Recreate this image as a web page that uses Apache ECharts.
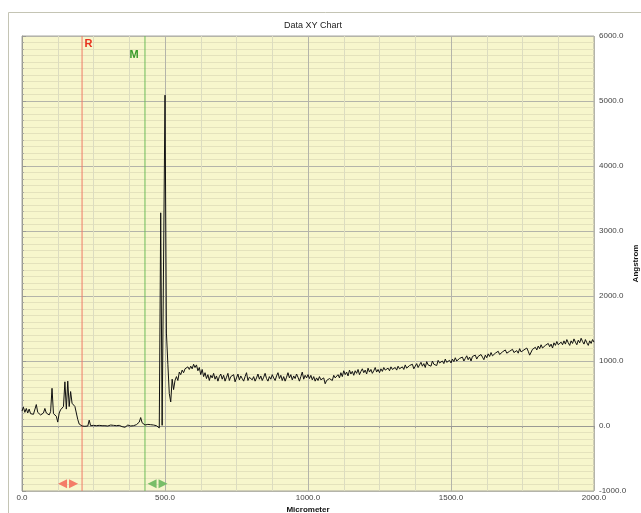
<!DOCTYPE html>
<html>
<head>
<meta charset="utf-8">
<title>Data XY Chart</title>
<script src="https://cdn.jsdelivr.net/npm/echarts@6/dist/echarts.min.js"></script>
<style>
  html, body { margin: 0; padding: 0; background: #fff; }
  #main { width: 641px; height: 513px; }
</style>
</head>
<body>
<div id="main"></div>
<script>
// 采样间隔 (Micrometer)
const stepUm = 5;

// 0 ~ 495 um: 前段噪声 + 平底
const headValues = [
    230, 290, 210, 270, 200, 260, 190, 220, 180, 200, 330, 210, 190, 170, 190, 200, 270, 200, 180, 170,
    220, 580, 190, 200, 150, 60, 200, 250, 230, 300, 680, 260, 690, 300, 530, 350, 340, 300, 200, 100,
    30, 10, 0, 10, -5, 5, 0, 90, 5, 0, 10, -5, 5, 0, 10, 0, 5, -5, 5, 10,
    0, 5, 15, 0, 10, -5, 5, 0, 10, 5, -10, 0, -20, 5, 15, 5, 0, 10, 5, 20,
    20, 30, 60, 130, 50, 20, 15, 10, 25, 15, 20, 10, 15, 0, 5, -10, -30, 3280, 10, -20
];

// 500 ~ 995 um: 主峰 + 平台
const peakValues = [
    5090, 1430, 950, 500, 370, 720, 560, 700, 760, 700, 830, 790, 860, 820, 880, 850, 910, 870, 920, 880,
    950, 900, 940, 850, 900, 790, 870, 760, 820, 730, 790, 700, 780, 740, 810, 720, 770, 690, 760, 800,
    720, 780, 690, 750, 810, 700, 760, 730, 790, 680, 740, 800, 710, 770, 730, 690, 760, 820, 700, 750,
    780, 710, 760, 690, 740, 800, 720, 770, 700, 750, 810, 730, 690, 760, 720, 790, 740, 700, 770, 820,
    730, 780, 700, 760, 690, 750, 820, 740, 790, 710, 770, 730, 800, 750, 690, 760, 830, 720, 780, 740
];

// 1000 ~ 2000 um: 缓慢上升段
const tailValues = [
    790, 730, 780, 710, 760, 690, 740, 700, 760, 710, 680, 740, 650, 700, 690, 730, 760, 700, 780, 740,
    710, 790, 740, 820, 760, 850, 790, 830, 770, 860, 800, 840, 780, 850, 810, 870, 790, 840, 880, 820,
    860, 800, 890, 830, 870, 810, 850, 900, 830, 870, 820, 880, 840, 900, 860, 830, 890, 850, 910, 870,
    840, 900, 860, 920, 880, 850, 910, 870, 940, 890, 860, 930, 900, 950, 880, 920, 960, 900, 940, 980,
    920, 960, 900, 990, 940, 970, 920, 1000, 950, 980, 930, 1010, 970, 940, 1000, 960, 1030, 980, 950, 1010,
    970, 1030, 990, 1050, 1000, 970, 1040, 1010, 1060, 1000, 1040, 1080, 1020, 1060, 1000, 1070, 1040, 1090, 1030, 1070,
    1040, 1100, 1060, 1020, 1090, 1050, 1110, 1070, 1130, 1080, 1050, 1120, 1090, 1150, 1100, 1070, 1140, 1110, 1170, 1120,
    1090, 1150, 1120, 1180, 1130, 1100, 1160, 1120, 1190, 1140, 1110, 1170, 1140, 1200, 1150, 1090, 1120, 1180, 1150, 1210,
    1170, 1230, 1190, 1250, 1200, 1170, 1240, 1210, 1270, 1220, 1260, 1200, 1280, 1240, 1300, 1250, 1220, 1290, 1250, 1310,
    1260, 1330, 1280, 1240, 1310, 1270, 1340, 1290, 1250, 1320, 1280, 1350, 1300, 1260, 1330, 1280, 1240, 1310, 1270, 1330,
    1290
];

// 坐标轴范围
const xRange = [0, 2000];
const yRange = [-1000, 6000];

// 游标 R / M 位置
const cursorNames = ['R', 'M'];
const cursorPositions = [210, 430];
const cursorLabelPoints = [[232, 5880], [392, 5710]];
const handlePoints = [[161, -890], [474, -890]];

const cursorLineColors = ['#f07a66', '#6cbc58'];
const cursorTextColors = ['#e8321e', '#389a28'];
const handleColors = ['#f47c68', '#78be68'];

const FONT = "'Liberation Sans', Arial, sans-serif";

function buildSeriesData() {
    let all = headValues.concat(peakValues, tailValues);
    return all.map((v, i) => [i * stepUm, v]);
}

function fmt(v) {
    return v.toFixed(1);
}

/**
 * 游标线: 竖直线系列 + 标签 + 底部手柄
 */
function cursorSeries(i) {
    let x = cursorPositions[i];
    return {
        type: 'line',
        name: cursorNames[i],
        data: [[x, yRange[0]], [x, yRange[1]]],
        showSymbol: false,
        symbol: 'none',
        silent: true,
        z: 2,
        lineStyle: { color: cursorLineColors[i], width: 1, type: 'solid' },
        itemStyle: { color: cursorLineColors[i] },
        markPoint: {
            silent: true,
            data: [
                {
                    coord: cursorLabelPoints[i],
                    symbol: 'circle',
                    symbolSize: 1,
                    itemStyle: { color: 'rgba(0,0,0,0)' },
                    label: {
                        show: true,
                        position: 'inside',
                        formatter: cursorNames[i],
                        color: cursorTextColors[i],
                        fontSize: 11,
                        fontWeight: 'bold',
                        fontFamily: FONT
                    }
                },
                {
                    // 底部拖动手柄 (双向箭头)
                    coord: handlePoints[i],
                    symbol: 'path://M0,5 L9,0 L9,10 Z M11,0 L20,5 L11,10 Z',
                    symbolSize: [20, 9],
                    symbolKeepAspect: false,
                    itemStyle: { color: handleColors[i] },
                    label: { show: false }
                }
            ]
        }
    };
}

function getOption() {
    return {
        animation: false,
        backgroundColor: '#ffffff',
        title: {
            text: 'Data XY Chart',
            left: 308,
            top: 16,
            textAlign: 'center',
            textStyle: { fontSize: 9, fontWeight: 'normal', color: '#222', fontFamily: FONT }
        },
        graphic: [
            {
                // 外框
                type: 'rect',
                silent: true,
                z: -10,
                shape: { x: 8.5, y: 12.5, width: 700, height: 600 },
                style: { fill: 'none', stroke: '#c4c4b4', lineWidth: 1 }
            }
        ],
        grid: {
            left: 22,
            right: 47,
            top: 36,
            bottom: 22,
            containLabel: false,
            outerBoundsMode: 'none',
            show: true,
            backgroundColor: '#f7f6cc',
            borderColor: '#a8a8a0',
            borderWidth: 1
        },
        xAxis: {
            type: 'value',
            min: xRange[0],
            max: xRange[1],
            interval: 500,
            name: 'Micrometer',
            nameLocation: 'middle',
            nameGap: 15,
            nameMoveOverlap: false,
            nameTextStyle: { fontSize: 8, fontWeight: 'bold', color: '#111', fontFamily: FONT },
            axisLine: { show: true, lineStyle: { color: '#9a9a94', width: 1 } },
            axisTick: { show: true, length: 3, lineStyle: { color: '#9a9a94' } },
            minorTick: { show: true, splitNumber: 4, length: 2, lineStyle: { color: '#a8a8a0' } },
            axisLabel: {
                fontSize: 8, color: '#444', margin: 3, fontFamily: FONT,
                formatter: fmt
            },
            splitLine: { show: true, lineStyle: { color: '#b4b4aa', width: 1 } },
            minorSplitLine: { show: true, lineStyle: { color: '#dcdcc0', width: 1 } }
        },
        yAxis: {
            type: 'value',
            position: 'right',
            min: yRange[0],
            max: yRange[1],
            interval: 1000,
            name: 'Angstrom',
            nameLocation: 'middle',
            nameRotate: 90,
            nameGap: 38,
            nameMoveOverlap: false,
            nameTextStyle: { fontSize: 8, fontWeight: 'bold', color: '#111', fontFamily: FONT },
            axisLine: { show: true, lineStyle: { color: '#9a9a94', width: 1 } },
            axisTick: { show: true, length: 4, lineStyle: { color: '#9a9a94' } },
            minorTick: { show: true, splitNumber: 10, length: 2, lineStyle: { color: '#a8a8a0' } },
            axisLabel: {
                fontSize: 8, color: '#444', margin: 5, fontFamily: FONT,
                formatter: fmt
            },
            splitLine: { show: true, lineStyle: { color: '#b4b4aa', width: 1 } },
            minorSplitLine: { show: true, lineStyle: { color: '#e4e2bc', width: 1 } }
        },
        series: [
            cursorSeries(0),
            cursorSeries(1),
            {
                type: 'line',
                name: 'profile',
                data: buildSeriesData(),
                showSymbol: false,
                symbol: 'none',
                lineStyle: { color: '#111', width: 1 },
                z: 3
            }
        ]
    };
}

let chart = echarts.init(document.getElementById('main'));
chart.setOption(getOption());
</script>
</body>
</html>
